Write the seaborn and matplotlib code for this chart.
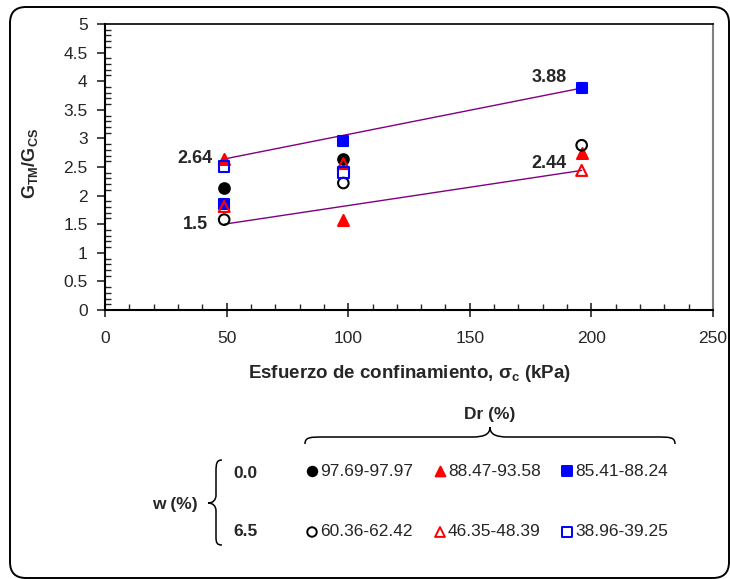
import numpy as np
import pandas as pd
import matplotlib
matplotlib.use("Agg")
import matplotlib.pyplot as plt
from matplotlib.path import Path
from matplotlib.patches import PathPatch, FancyBboxPatch
from matplotlib.ticker import MultipleLocator
import seaborn as sns

# ---------------- data ----------------
sigma_c = [49, 98, 196]                      # confining stress (kPa)

series_names = ["97.69-97.97", "88.47-93.58", "85.41-88.24",
                "60.36-62.42", "46.35-48.39", "38.96-39.25"]
series_x = {
    "97.69-97.97": [49, 98],
    "88.47-93.58": [49, 98, 196],
    "85.41-88.24": [49, 98, 196],
    "60.36-62.42": [49, 98, 196],
    "46.35-48.39": [49, 98, 196],
    "38.96-39.25": [49, 98],
}
series_y = {
    "97.69-97.97": [2.13, 2.64],
    "88.47-93.58": [2.64, 1.57, 2.75],
    "85.41-88.24": [1.86, 2.96, 3.88],
    "60.36-62.42": [1.58, 2.22, 2.88],
    "46.35-48.39": [1.81, 2.56, 2.44],
    "38.96-39.25": [2.51, 2.40],
}
w_levels = ["0.0", "0.0", "0.0", "6.5", "6.5", "6.5"]

trend_x = [49, 196]
trend_upper = [2.64, 3.88]
trend_lower = [1.5, 2.44]

x_ticks = [0, 50, 100, 150, 200, 250]
y_ticks = [0, 0.5, 1, 1.5, 2, 2.5, 3, 3.5, 4, 4.5, 5]

rows = []
for name, w in zip(series_names, w_levels):
    for xv, yv in zip(series_x[name], series_y[name]):
        rows.append({"sigma": xv, "ratio": yv, "Dr": name, "w": w})
df = pd.DataFrame(rows)
trend_df = pd.DataFrame({"sigma": trend_x * 2,
                         "ratio": trend_upper + trend_lower,
                         "line": ["upper"] * 2 + ["lower"] * 2})

# ---------------- style ----------------
sns.set_style("ticks")
plt.rcParams["font.family"] = ["Liberation Sans", "DejaVu Sans"]
plt.rcParams["mathtext.fontset"] = "custom"
plt.rcParams["mathtext.rm"] = "Liberation Sans"
plt.rcParams["mathtext.it"] = "Liberation Sans:italic"
plt.rcParams["mathtext.bf"] = "Liberation Sans:bold"

W, H = 730, 579
fig = plt.figure(figsize=(W / 100, H / 100), dpi=100)
fig.patch.set_facecolor("white")

L, R, T, B = 105, 713, 24, 310
ax = fig.add_axes([L / W, 1 - B / H, (R - L) / W, (B - T) / H])

styles = {
    "97.69-97.97": dict(marker="o", fc="black", ec="black", s=58),
    "88.47-93.58": dict(marker="^", fc="red", ec="red", s=62),
    "85.41-88.24": dict(marker="s", fc="blue", ec="blue", s=58),
    "60.36-62.42": dict(marker="o", fc="none", ec="black", s=58),
    "46.35-48.39": dict(marker="^", fc="none", ec="red", s=62),
    "38.96-39.25": dict(marker="s", fc="none", ec="blue", s=58),
}

purple = "#800080"
sns.lineplot(data=trend_df, x="sigma", y="ratio", units="line", estimator=None,
             color=purple, linewidth=1.0, ax=ax, zorder=2, legend=False)

for name in series_names:
    st = styles[name]
    sub = df[df["Dr"] == name]
    sns.scatterplot(data=sub, x="sigma", y="ratio", marker=st["marker"],
                    s=st["s"], facecolor=st["fc"], edgecolor=st["ec"],
                    linewidth=1.5, ax=ax, zorder=3, legend=False)

ax.set_xlim(0, 250)
ax.set_ylim(0, 5)
ax.set_xticks(x_ticks)
ax.set_yticks(y_ticks)
ax.set_xticklabels([f"{t:g}" for t in x_ticks])
ax.set_yticklabels([f"{t:g}" for t in y_ticks])
ax.xaxis.set_minor_locator(MultipleLocator(10))
ax.yaxis.set_minor_locator(MultipleLocator(0.1))
ax.tick_params(axis="x", which="major", direction="inout", length=10, width=1.2,
               labelsize=12.5, pad=10)
ax.tick_params(axis="x", which="minor", direction="in", length=4, width=1.0)
ax.tick_params(axis="y", which="major", direction="out", length=6, width=1.2,
               labelsize=12.5, pad=6.5)
ax.tick_params(axis="y", which="minor", direction="in", length=4, width=1.0)

for s in ["left", "bottom"]:
    ax.spines[s].set_linewidth(1.5)
    ax.spines[s].set_color("black")
ax.spines["top"].set_linewidth(1.2)
ax.spines["top"].set_color("black")
ax.spines["right"].set_linewidth(1.5)
ax.spines["right"].set_color("#808080")

ax.set_xlabel(r"Esfuerzo de confinamiento, σ$_{\mathbf{c}}$ (kPa)",
              fontsize=13.5, fontweight="bold")
ax.xaxis.set_label_coords(0.5, (B - 373) / (B - T))
ax.xaxis.label.set_va("center")
ax.set_ylabel(r"$\mathbf{G_{TM}/G_{CS}}$", fontsize=13)
ax.yaxis.set_label_coords((30 - L) / (R - L), (B - 163) / (B - T))
ax.yaxis.label.set_va("center")

# value annotations
ann = dict(textcoords="offset points", ha="right", va="center",
           fontsize=13, fontweight="bold")
ax.annotate("2.64", (trend_x[0], trend_upper[0]), xytext=(-8.5, 0), **ann)
ax.annotate("1.5", (trend_x[0], trend_lower[0]), xytext=(-12, 0), **ann)
ax.annotate("3.88", (trend_x[1], trend_upper[1]), xytext=(-11, 7.5), **ann)
ax.annotate("2.44", (trend_x[1], trend_lower[1]), xytext=(-11, 5), **ann)

# ---------------- overlay (pixel coordinates) ----------------
ov = fig.add_axes([0, 0, 1, 1], zorder=10)
ov.set_xlim(0, W)
ov.set_ylim(H, 0)
ov.axis("off")
ov.patch.set_alpha(0)

border = FancyBboxPatch((10, 7), 719, 571, boxstyle="round,pad=0,rounding_size=16",
                        fill=False, ec="black", lw=1.4)
ov.add_patch(border)

# horizontal brace
hb = [(305, 444), (305, 437), (310, 437), (325, 437),
      (472, 437),
      (485, 437), (490, 434), (490, 427),
      (490, 434), (495, 437), (508, 437),
      (655, 437),
      (670, 437), (675, 437), (675, 444)]
hc = [Path.MOVETO, Path.CURVE4, Path.CURVE4, Path.CURVE4,
      Path.LINETO,
      Path.CURVE4, Path.CURVE4, Path.CURVE4,
      Path.CURVE4, Path.CURVE4, Path.CURVE4,
      Path.LINETO,
      Path.CURVE4, Path.CURVE4, Path.CURVE4]
ov.add_patch(PathPatch(Path(hb, hc), fill=False, ec="black", lw=1.1))

# vertical brace
vb = [(222, 460), (217, 460), (216, 463), (216, 471),
      (216, 495),
      (216, 500), (213, 503), (208, 503),
      (213, 503), (216, 506), (216, 511),
      (216, 537),
      (216, 543), (217, 545), (222, 545)]
ov.add_patch(PathPatch(Path(vb, hc), fill=False, ec="black", lw=1.1))

ov.text(490, 414, "Dr (%)", ha="center", va="center", fontsize=12.5, fontweight="bold")
ov.text(175, 504, "w (%)", ha="center", va="center", fontsize=12.5, fontweight="bold")
ov.text(245, 474, "0.0", ha="center", va="center", fontsize=12.5, fontweight="bold")
ov.text(245, 532, "6.5", ha="center", va="center", fontsize=12.5, fontweight="bold")

col_x = [312, 440, 567]
row_y = {"0.0": 471, "6.5": 532}
for i, (name, w) in enumerate(zip(series_names, w_levels)):
    st = styles[name]
    cx = col_x[i % 3]
    cy = row_y[w]
    ov.scatter([cx], [cy], marker=st["marker"], s=st["s"] * 0.8,
               facecolor=st["fc"], edgecolor=st["ec"], linewidth=1.4)
    ov.text(cx + 8, cy, name, ha="left", va="center", fontsize=12.5)

fig.savefig("out.png", dpi=100, facecolor="white")
